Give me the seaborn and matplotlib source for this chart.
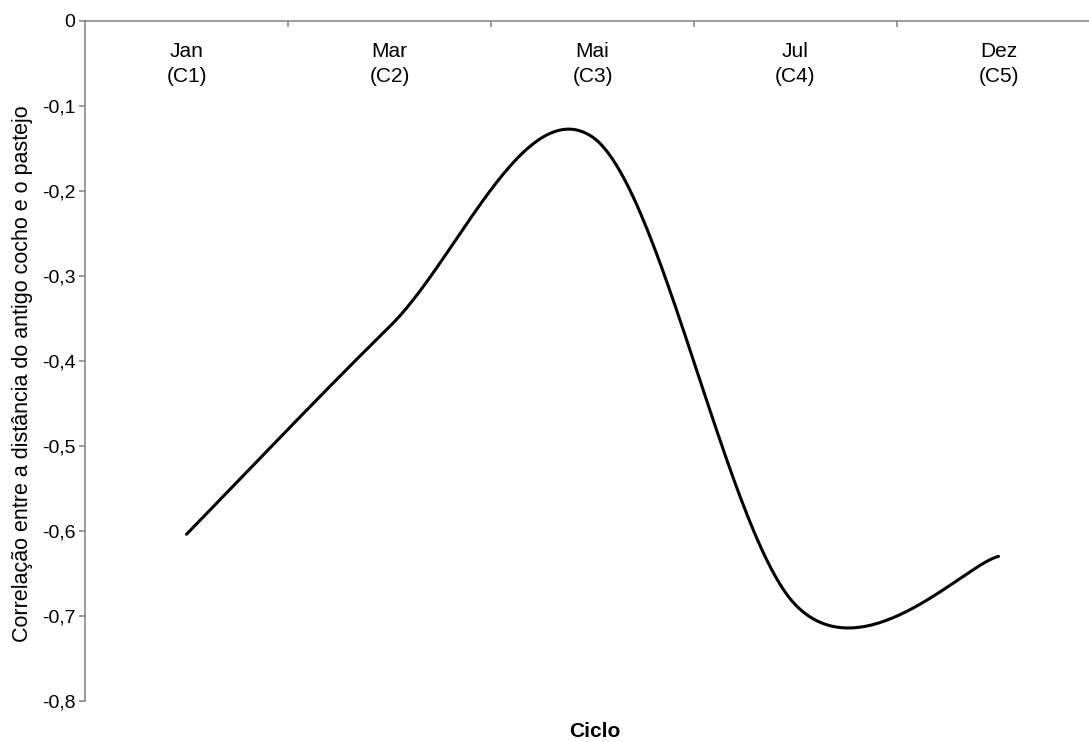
import numpy as np
import pandas as pd
import matplotlib
matplotlib.use("Agg")
import matplotlib.pyplot as plt
import seaborn as sns

# dados
meses = ["Jan", "Mar", "Mai", "Jul", "Dez"]
ciclos = ["C1", "C2", "C3", "C4", "C5"]
correlacao = [-0.604, -0.36, -0.137, -0.687, -0.63]

sns.set_theme(style="white", rc={"text.color": "black", "xtick.color": "black",
                                 "ytick.color": "black", "axes.labelcolor": "black"})
plt.rcParams["font.family"] = ["Liberation Sans", "DejaVu Sans"]


def suavizar(xs, ys, n=60):
    # curva suavizada tipo Excel (Bezier / Catmull-Rom)
    pts = np.column_stack([xs, ys]).astype(float)
    out = []
    for i in range(len(pts) - 1):
        p0 = pts[i - 1] if i > 0 else pts[i]
        p1 = pts[i]
        p2 = pts[i + 1]
        p3 = pts[i + 2] if i + 2 < len(pts) else pts[i + 1]
        c1 = p1 + (p2 - p0) / 6
        c2 = p2 - (p3 - p1) / 6
        t = np.linspace(0, 1, n)[:, None]
        seg = ((1 - t) ** 3) * p1 + 3 * ((1 - t) ** 2) * t * c1 + 3 * (1 - t) * t ** 2 * c2 + t ** 3 * p2
        out.append(seg if i == 0 else seg[1:])
    return np.vstack(out)


x_pos = np.arange(len(meses)) + 0.5
curva = suavizar(x_pos, correlacao)
df = pd.DataFrame({"x": curva[:, 0], "y": curva[:, 1]})

W, H = 1089, 742
fig = plt.figure(figsize=(W / 100, H / 100), dpi=100)
ax = fig.add_axes([85 / W, 1 - 701 / H, 1015 / W, 680.5 / H])

sns.lineplot(data=df, x="x", y="y", ax=ax, color="black", linewidth=2.2, sort=False, estimator=None)

ax.set_xlim(0, 5)
ax.set_ylim(-0.8, 0)

for s in ["bottom", "right"]:
    ax.spines[s].set_visible(False)
for s in ["top", "left"]:
    ax.spines[s].set_color("#808080")
    ax.spines[s].set_linewidth(1.1)

ax.set_yticks(np.arange(0, -0.81, -0.1))
ax.set_yticklabels(["0"] + [f"{v:.1f}".replace(".", ",") for v in np.arange(-0.1, -0.81, -0.1)])
ax.tick_params(axis="y", direction="out", length=4.5, width=1.1, color="#808080",
               labelcolor="black", labelsize=14, pad=2.5, left=True)

ax.xaxis.set_ticks_position("top")
ax.set_xticks([1, 2, 3, 4])
ax.set_xticklabels([])
ax.tick_params(axis="x", direction="in", length=4.3, width=1.1, color="#808080", top=True, bottom=False)

for xp, m, c in zip(x_pos, meses, ciclos):
    ax.annotate(m, xy=(xp, 0), xytext=(0, -26.3), textcoords="offset points",
                ha="center", va="baseline", fontsize=15, color="black")
    ax.annotate(f"({c})", xy=(xp, 0), xytext=(0, -44.3), textcoords="offset points",
                ha="center", va="baseline", fontsize=15, color="black")

ax.set_xlabel("")
ax.set_ylabel("")
fig.text(23 / W, 1 - 373.5 / H, "Correlação entre a distância do antigo cocho e o pastejo",
         rotation=90, ha="center", va="center", fontsize=15.5, color="black")
fig.text(595 / W, 1 / H, "Ciclo", ha="center", va="bottom", fontsize=15, fontweight="bold", color="black")

fig.savefig("out.png", dpi=100)
